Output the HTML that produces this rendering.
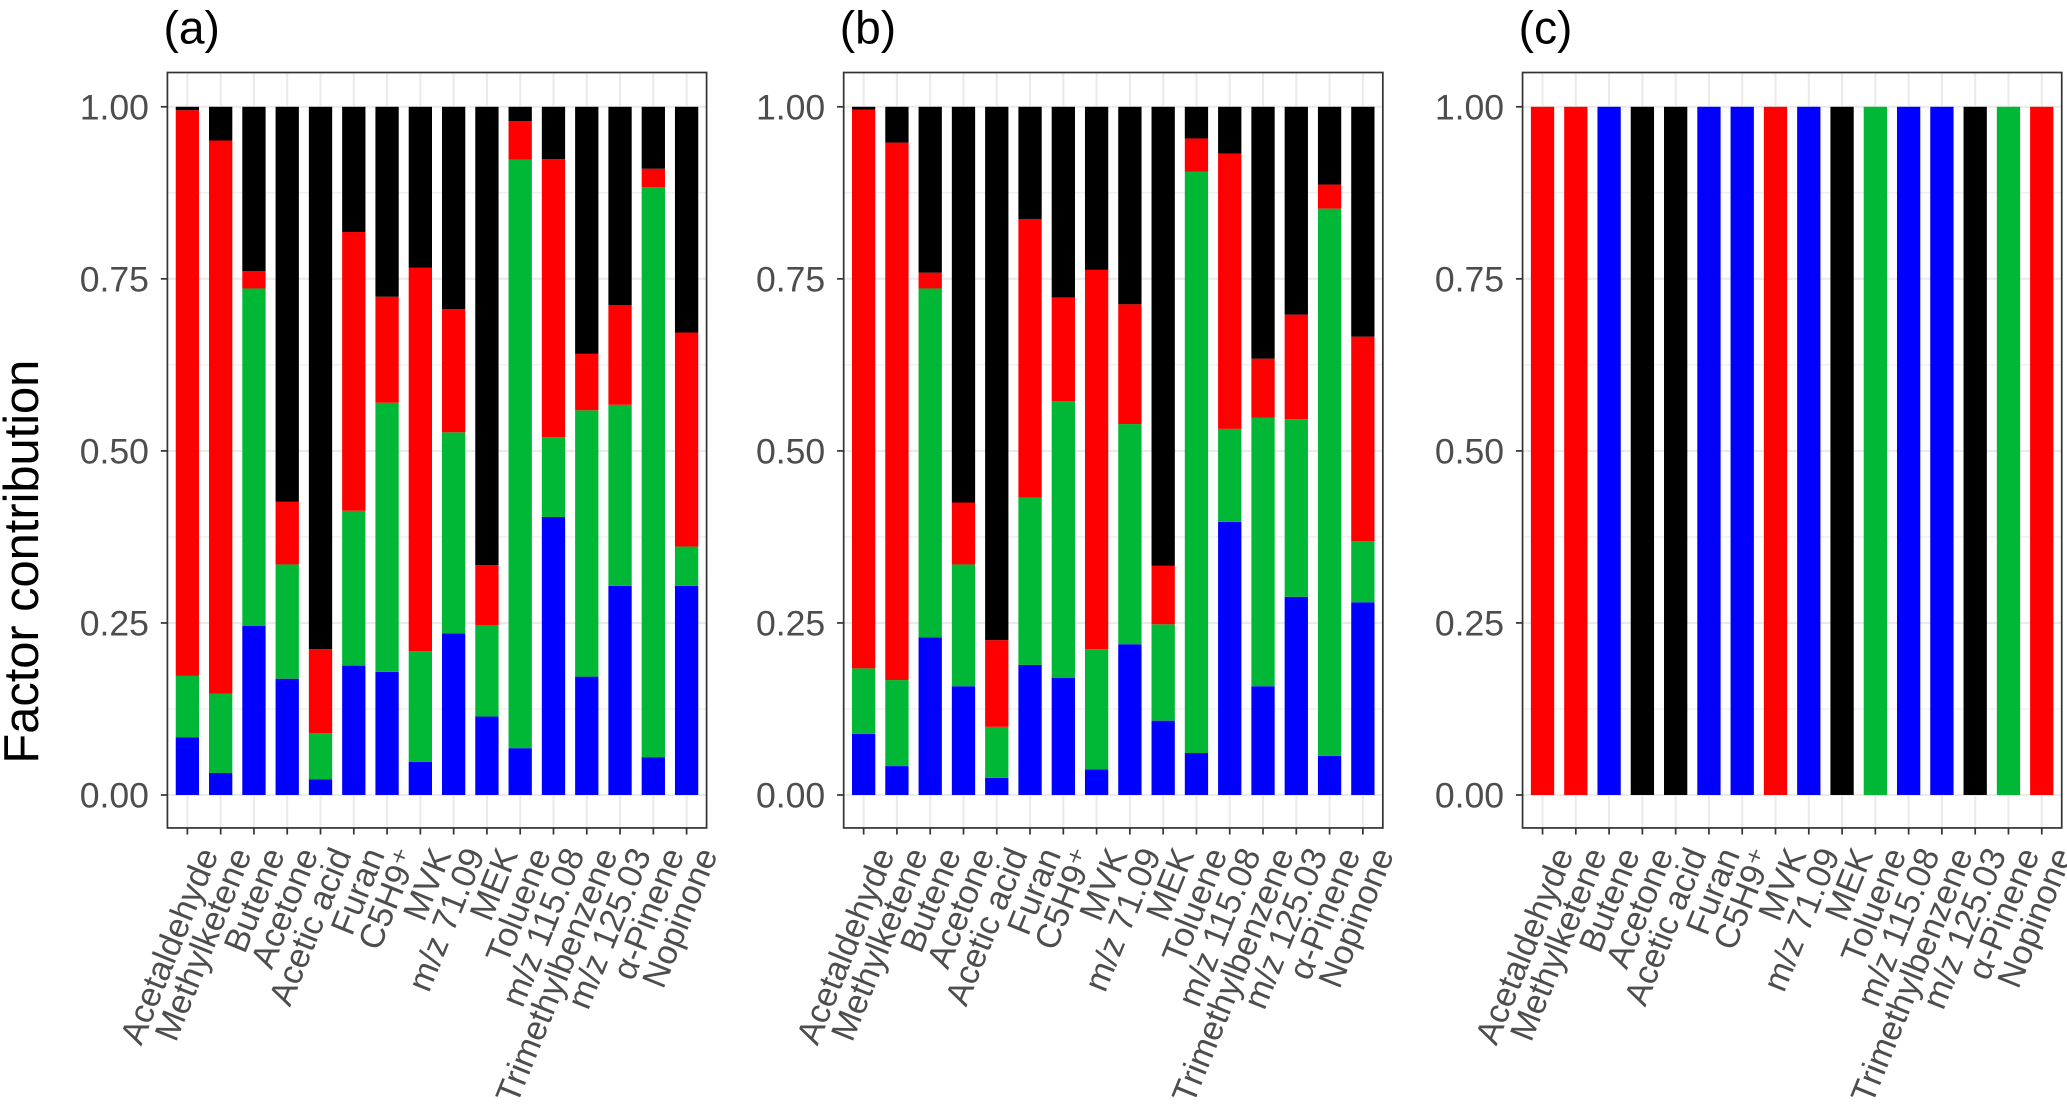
<!DOCTYPE html>
<html><head><meta charset="utf-8"><style>
html,body{margin:0;padding:0;background:#fff;}
svg{display:block;font-family:"Liberation Sans",Arial,sans-serif;}
</style></head><body>
<svg id="chart" width="2067" height="1118" viewBox="0 0 1568 848" preserveAspectRatio="none" xmlns="http://www.w3.org/2000/svg">
<text transform="translate(29,426) rotate(-90)" text-anchor="middle" font-size="37" fill="#000">Factor contribution</text>
</svg>
<script>
const categories = ["Acetaldehyde","Methylketene","Butene","Acetone","Acetic acid","Furan","C5H9\u207A","MVK","m/z 71.09","MEK","Toluene","m/z 115.08","Trimethylbenzene","m/z 125.03","\u03B1-Pinene","Nopinone"];
// Panel (a) stacked values (fraction per factor)
const aBlue  = [0.084,0.032,0.246,0.169,0.023,0.188,0.179,0.048,0.235,0.114,0.068,0.404,0.172,0.304,0.055,0.304];
const aGreen = [0.089,0.115,0.490,0.166,0.067,0.225,0.391,0.161,0.292,0.133,0.855,0.116,0.387,0.263,0.828,0.057];
const aRed   = [0.822,0.804,0.025,0.091,0.122,0.405,0.154,0.557,0.179,0.087,0.056,0.404,0.082,0.145,0.027,0.311];
const aBlack = [0.005,0.049,0.239,0.574,0.788,0.182,0.276,0.234,0.294,0.666,0.021,0.076,0.359,0.288,0.090,0.328];
// Panel (b)
const bBlue  = [0.089,0.042,0.229,0.158,0.025,0.189,0.170,0.037,0.219,0.108,0.061,0.397,0.158,0.288,0.057,0.280];
const bGreen = [0.095,0.125,0.507,0.177,0.074,0.243,0.402,0.175,0.320,0.140,0.845,0.135,0.390,0.258,0.795,0.089];
const bRed   = [0.812,0.781,0.023,0.090,0.126,0.405,0.151,0.551,0.174,0.085,0.048,0.400,0.086,0.152,0.035,0.297];
const bBlack = [0.004,0.052,0.241,0.575,0.775,0.163,0.277,0.237,0.287,0.667,0.046,0.068,0.366,0.302,0.113,0.334];
// Panel (c) dominant factor per species
const cFactor = ["red","red","blue","black","black","blue","blue","red","blue","black","green","blue","blue","black","green","red"];
const yTicks = [0,0.25,0.5,0.75,1];
const yTickLabels = ["0.00","0.25","0.50","0.75","1.00"];

const colors = {blue:"#0000FF",green:"#00B836",red:"#FF0000",black:"#000000"};
const NS = "http://www.w3.org/2000/svg";
const svg = document.getElementById('chart');
function mk(tag, attrs, parent){const e=document.createElementNS(NS,tag);for(const k in attrs)e.setAttribute(k,attrs[k]);(parent||svg).appendChild(e);return e;}
const TOP=55, BOT=628, Y0=603, Y1=81;
function yScale(v){return Y0-(Y0-Y1)*v;}

function panel(left,right,label,stacks){
  const g=mk('g',{});
  
  
  const band=(right-left)/16.2;
  function xc(i){return left+(i+0.6)*band;}
  for(let k=0;k<4;k++){const t=0.125+0.25*k;mk('line',{x1:left,x2:right,y1:yScale(t),y2:yScale(t),stroke:'#ebebeb','stroke-width':0.8},g);}
  yTicks.forEach(t=>{const l=mk('line',{x1:left,x2:right,y1:yScale(t),y2:yScale(t),stroke:'#ebebeb','stroke-width':1.6},g);
    });
  categories.forEach((c,i)=>{mk('line',{x1:xc(i),x2:xc(i),y1:TOP,y2:BOT,stroke:'#ebebeb','stroke-width':1.6},g);});
  const bw=band*0.7;
  categories.forEach((c,i)=>{
    let cum=0;
    stacks.forEach(s=>{
      const v=s.vals[i]; if(!v)return;
      const r=mk('rect',{x:xc(i)-bw/2,y:yScale(cum+v),width:bw,height:yScale(cum)-yScale(cum+v),fill:colors[s.color]},g);
      
      
      cum+=v;
    });
  });
  const b=mk('rect',{x:left,y:TOP,width:right-left,height:BOT-TOP,fill:'none',stroke:'#333','stroke-width':1.3},g);
  
  
  yTicks.forEach((t,k)=>{
    mk('line',{x1:left-5,x2:left,y1:yScale(t),y2:yScale(t),stroke:'#333','stroke-width':1.3},g);
    const tx=mk('text',{x:left-14,y:yScale(t)+9.5,'text-anchor':'end','font-size':27,fill:'#4d4d4d'},g);
    tx.textContent=yTickLabels[k];
    
    
  });
  categories.forEach((c,i)=>{
    mk('line',{x1:xc(i),x2:xc(i),y1:BOT,y2:BOT+5,stroke:'#333','stroke-width':1.3},g);
    const tx=mk('text',{transform:`translate(${xc(i)+7},${BOT+13}) rotate(-68)`,'text-anchor':'end','font-size':26,fill:'#4d4d4d','dominant-baseline':'hanging'},g);
    tx.textContent=c;
    
    
  });
  const t=mk('text',{x:left-3,y:33,'font-size':35,fill:'#000'},g);
  t.textContent='('+label+')';
  
  
}
panel(127,536,'a',[{color:'blue',vals:aBlue},{color:'green',vals:aGreen},{color:'red',vals:aRed},{color:'black',vals:aBlack}]);
panel(640,1049,'b',[{color:'blue',vals:bBlue},{color:'green',vals:bGreen},{color:'red',vals:bRed},{color:'black',vals:bBlack}]);
const cStacks=['blue','green','red','black'].map(col=>({color:col,vals:cFactor.map(f=>f===col?1:0)}));
panel(1155,1564,'c',cStacks);
</script>
</body></html>
